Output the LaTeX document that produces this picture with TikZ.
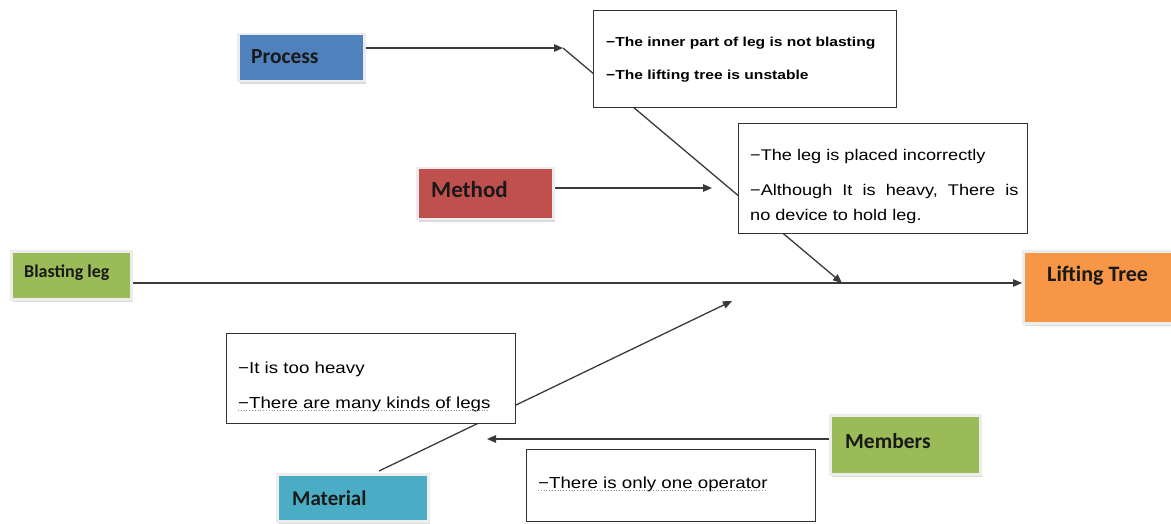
\documentclass[tikz,border=0pt]{standalone}
\usepackage{fontspec}
\setmainfont{Liberation Sans}
\newfontfamily\labfont{Carlito}
\newfontfamily\boxfont{Liberation Sans}[FakeStretch=1.17]
\newfontfamily\boxboldfont{Liberation Sans Bold}[FakeStretch=1.2]
\usetikzlibrary{arrows.meta,shadows,backgrounds}
\definecolor{procblue}{HTML}{4F81BD}
\definecolor{methred}{HTML}{C0504D}
\definecolor{leggreen}{HTML}{9BBB59}
\definecolor{liftorange}{HTML}{F79646}
\definecolor{matcyan}{HTML}{4BACC6}
\definecolor{linegray}{HTML}{3A3A3A}
\newcommand{\labsize}[1]{\labfont\bfseries\fontsize{#1}{#1}\selectfont}
\begin{document}
\begin{tikzpicture}[x=1pt,y=-1pt,
  catbox/.style={draw=black!7, line width=2.5pt, inner sep=0pt, anchor=north west,
    drop shadow={shadow xshift=1.5pt, shadow yshift=-3pt, fill=black!28}},
  labtext/.style={anchor=base west, inner sep=0pt, font=\labsize{21}, text=black!90},
  txtbox/.style={draw=black!80, line width=1.2pt, fill=white, inner sep=0pt, anchor=north west},
  boxtext/.style={anchor=base west, inner sep=0pt, font=\boxfont\fontsize{15.5}{18}\selectfont},
  conn/.style={draw=linegray, line width=1.3pt},
  arr/.style={conn, -{Triangle[length=9pt,width=7.5pt]}},
  spell/.style={draw=black!45, line width=0.8pt, dotted}
]
\useasboundingbox (0,0) rectangle (1171,524);

% ---- category boxes
\node[catbox, fill=procblue, minimum width=126pt, minimum height=47pt] (process) at (237,33) {};
\node[labtext, font=\labsize{21.5}] (processtext) at (251,64) {Process};

\node[catbox, fill=methred, minimum width=136pt, minimum height=51pt] (method) at (416,167) {};
\node[labtext, font=\labsize{23}] (methodtext) at (431,198) {Method};

\node[catbox, fill=leggreen, minimum width=120pt, minimum height=48pt] (blast) at (10,250) {};
\node[labtext, font=\labsize{18}] (blasttext) at (24,277) {Blasting leg};

\node[catbox, fill=liftorange, minimum width=152pt, minimum height=72pt] (lift) at (1022,250) {};
\node[labtext, font=\labsize{22}] (lifttext) at (1047,281) {Lifting Tree};

\node[catbox, fill=matcyan, minimum width=151pt, minimum height=47pt] (material) at (276,473) {};
\node[labtext, font=\labsize{21}] (materialtext) at (292,505) {Material};

\node[catbox, fill=leggreen, minimum width=150pt, minimum height=59pt] (members) at (829,414) {};
\node[labtext, font=\labsize{21.5}] (memberstext) at (845,448) {Members};

% ---- text boxes
\node[txtbox, minimum width=303pt, minimum height=97pt] (boxA) at (593,10) {};
\node[boxtext, font=\boxboldfont\fontsize{13}{16}\selectfont] (boxA1) at (606,47) {−The inner part of leg is not blasting};
\node[boxtext, font=\boxboldfont\fontsize{13}{16}\selectfont] (boxA2) at (606,80) {−The lifting tree is unstable};

\node[txtbox, minimum width=289pt, minimum height=110pt] (boxB) at (738,123) {};
\node[boxtext] (boxB1) at (750,161) {−The leg is placed incorrectly};
\node[boxtext] (boxB2) at (750,196) {−Although\ \ It\ \ is\ \ heavy,\ \ There\ \ is};
\node[boxtext] (boxB3) at (750,220) {no device to hold leg.};

\node[txtbox, minimum width=289pt, minimum height=90pt] (boxC) at (226,333) {};
\node[boxtext, font=\boxfont\fontsize{16}{19}\selectfont] (boxC1) at (238,373) {−It is too heavy};
\node[boxtext, font=\boxfont\fontsize{16}{19}\selectfont] (boxC2) at (238,408) {−There are many kinds of legs};
\draw[spell] (boxC2.base west) ++(0,2.5) -- ++(250,0);

\node[txtbox, minimum width=289pt, minimum height=72pt] (boxD) at (526,449) {};
\node[boxtext, font=\boxfont\fontsize{16}{19}\selectfont] (boxD1) at (538,488) {−There is only one operator};
\draw[spell] (boxD1.base west) ++(0,2.5) -- ++(227,0);

% ---- connector points
\coordinate (pbend) at (563,48);
\coordinate (pend) at (842,283);
\coordinate (mend) at (712,188);
\coordinate (matstart) at (379,471);
\coordinate (matend) at (732,301);
\coordinate (memend) at (487,439);

\begin{pgfonlayer}{background}
  \draw[arr] (process.east |- pbend) -- (pbend);
  \draw[arr] (pbend) -- (pend);
  \draw[arr] (method.east |- mend) -- (mend);
  \draw[arr] (blast.east |- pend) -- (lift.west |- pend);
  \draw[arr] (matstart) -- (matend);
  \draw[arr] (members.west |- memend) -- (memend);
\end{pgfonlayer}
\end{tikzpicture}
\end{document}
